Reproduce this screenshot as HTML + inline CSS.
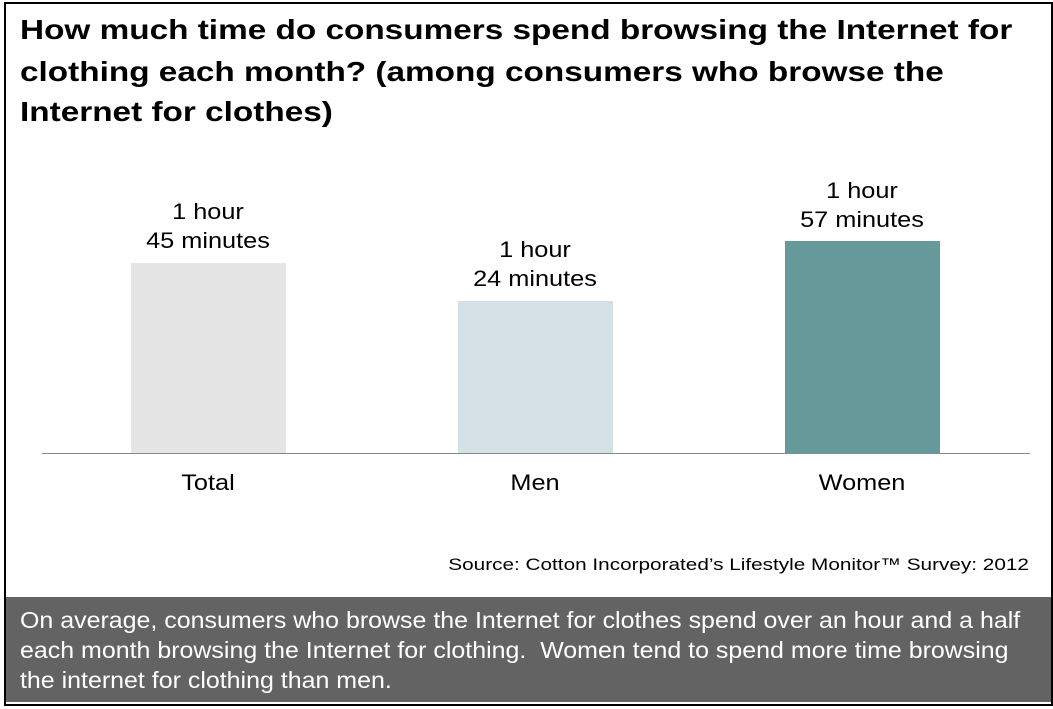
<!DOCTYPE html>
<html><head><style>
body{margin:0;width:1053px;height:709px;background:#fff;position:relative;overflow:hidden;font-family:"Liberation Sans",Arial,sans-serif}
.frame{position:absolute;left:4px;top:2px;width:1045px;height:700px;border:2px solid #000}
.l{position:absolute;white-space:nowrap;transform-origin:0 0}
.title{font-size:28px;font-weight:bold;transform:scaleX(1.19);left:20px}
.bar{position:absolute;width:155px}
.lbl{position:absolute;font-size:22px;text-align:center;width:200px;line-height:29px;transform:scaleX(1.15)}
.foot{position:absolute;left:6px;top:597px;width:1045px;height:105px;background:#636363}
.ft{color:#fff;font-size:23px;transform:scaleX(1.085);left:20px}
</style></head><body>
<div class="frame"></div>
<div class="l title" style="top:14px">How much time do consumers spend browsing the Internet for</div>
<div class="l title" style="top:56px">clothing each month? (among consumers who browse the</div>
<div class="l title" style="top:96px">Internet for clothes)</div>
<div class="bar" style="left:131px;top:263px;height:190px;background:#e5e5e5"></div>
<div class="bar" style="left:458px;top:301px;height:152px;background:#d5e0e6"></div>
<div class="bar" style="left:785px;top:241px;height:212px;background:#669999"></div>
<div style="position:absolute;left:42px;top:453px;width:988px;height:1px;background:#888"></div>
<div class="lbl" style="left:108px;top:197px">1 hour<br>45 minutes</div>
<div class="lbl" style="left:435px;top:235px">1 hour<br>24 minutes</div>
<div class="lbl" style="left:762px;top:176px">1 hour<br>57 minutes</div>
<div class="lbl" style="left:108px;top:468px">Total</div>
<div class="lbl" style="left:435px;top:468px">Men</div>
<div class="lbl" style="left:762px;top:468px">Women</div>
<div class="l" style="right:24px;top:555px;font-size:17px;transform:scaleX(1.22);transform-origin:100% 0">Source: Cotton Incorporated’s Lifestyle Monitor™ Survey: 2012</div>
<div class="foot"></div>
<div class="l ft" style="top:607px">On average, consumers who browse the Internet for clothes spend over an hour and a half</div>
<div class="l ft" style="top:637px">each month browsing the Internet for clothing.&nbsp; Women tend to spend more time browsing</div>
<div class="l ft" style="top:667px">the internet for clothing than men.</div>
</body></html>
